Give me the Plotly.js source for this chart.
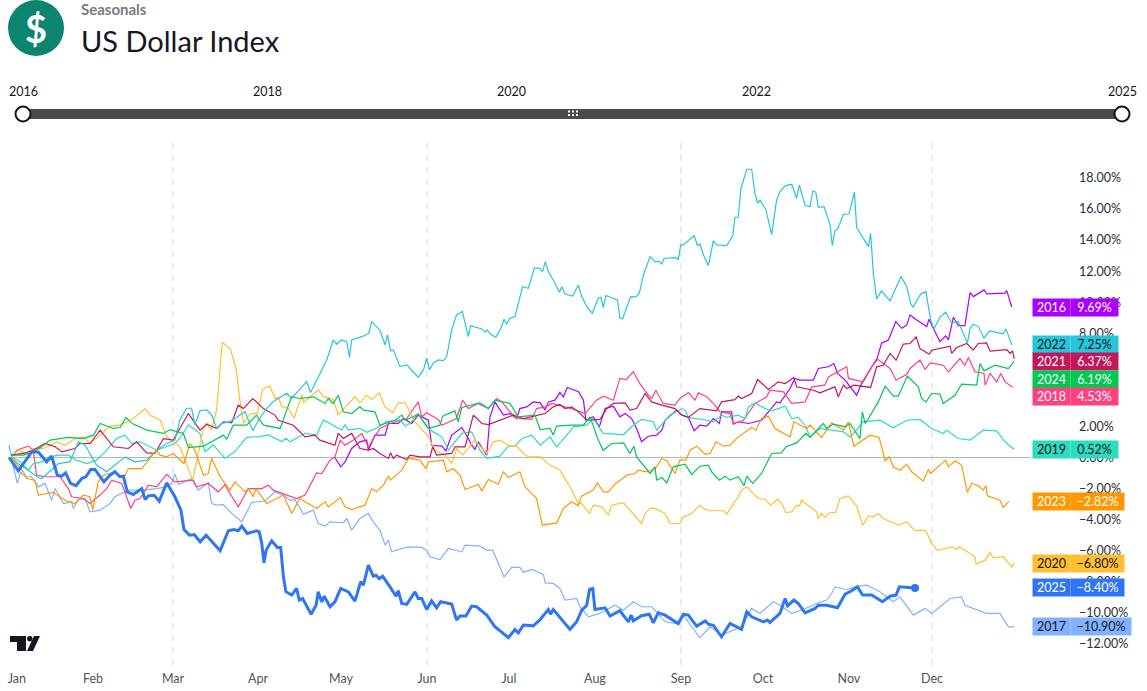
<!DOCTYPE html>
<html><head><meta charset="utf-8">
<script src="https://cdn.plot.ly/plotly-3.0.1.min.js"></script>
<style>html,body{margin:0;padding:0;background:#fff}</style></head>
<body><div id="chart" style="width:1147px;height:691px"></div>
<script>
const d2016=[119.1,121.2,122.8,125.2,128.2,130.7,131.3,133.7,137.4,138.6,142.2,144.1,147.1,149.5,153.2,154.4,158.1,159.6,161.7,165.4,167.8,169,170.2,171.4,174.5,175.7,177.5,180.6,183,185.4,186.6,189.1,191.5,194,195.8,197,199.4,201.2,202.5,203.9,208,209.8,210.7,213.4,215.6,217.7,220.7,223.1,225,227.4,229.2,231,233.5,236.5,238.4,239.6,243.8,245.7,248.1,250.2,252.3,254.8,257.2,259.4,260.2,263.9,264.5,266.3,270,274.8,280.3,281.5,285.2,287,288.8,293.7,295.5,299.2,301.2,302.5,305.3,309.5,311.3,315,316.8,318.6,321.1,323.8,326,327.8,329,331.4,335.1,335.9,339.9,342,343,344.8,346.6,349,350.9,352.1,356,357,363.7,364.3,366.1];
const y2016=[0,-0.6,-0.28,0.58,1.01,1.12,0.47,1.44,1.44,2.19,2.19,2.51,2.19,2.73,2.4,0.79,0.73,0.43,1.44,1.93,1.22,0.79,0.52,1.01,0.15,2.62,3.58,2.73,2.83,2.51,3.15,3.26,3.58,3.52,3.05,3.58,3.69,4.18,3.91,4.51,4.23,3.69,2.4,2.62,1.97,3.15,3.3,2.62,2.83,2.51,1.87,1.01,1.37,1.44,1.76,2.4,3.05,2.73,2.58,1.72,2.08,2.02,2.51,2.19,2.94,2.94,2.15,2.3,2.19,2.4,3.58,3.52,4.44,5.09,4.98,4.98,5.73,5.84,6.05,5.41,4.98,4.01,4.76,5.84,6.27,7.36,7.57,8.75,8.32,8.54,9.18,8.86,8.43,8.9,7.46,7.83,7.57,9.03,8.49,8.49,10.62,10.36,10.79,10.53,10.58,10.75,9.69];
const d2017=[0.9,3.2,4.4,6,8.4,10.9,13.3,15.7,17,20,23,23.6,25.5,27.9,29.7,33.4,37,38.8,43.7,49.2,54,57.7,59.5,60.7,62,66.8,69.2,72.9,74.1,75.9,78.4,81.4,85.1,88.7,93.6,97.2,100.9,102.7,104.5,107.6,111.2,113,115.5,117.3,122.2,123.4,125.2,128.2,131.3,133.1,135.5,137.4,138.6,139.8,143.5,145.9,150.8,152.6,153.8,157.4,160.5,165.4,166.6,172,174.5,176.7,180.8,183.6,186.6,187.9,190.9,195.2,195.8,198.8,201.2,203.1,207.3,208.5,211.6,215.8,221.3,224.4,228,231,234.7,239.6,243.8,246.3,252.3,256,260.2,263.3,267.5,271.2,274.2,279.1,281.5,285.8,290,294.9,298.6,300.4,301.6,305.9,308.9,313.2,318,322.9,325.3,330.2,334.5,336.9,343.6,347.8,349,356.9,361.8,364.9,367];
const y2017=[0,-1.67,-0.92,-1.24,-1.24,-1.89,-1.67,-2.75,-2,-2.96,-2.85,-3.28,-2.71,-2.64,-3.5,-3.39,-2.96,-2.53,-2.1,-2.1,-2,-1.89,-1.67,-1.07,-1.73,-1.36,-2.1,-1.63,-2.96,-3.07,-3.03,-3.6,-4.14,-2.9,-2.79,-2.21,-2.49,-2.75,-2.71,-3.65,-3.39,-4.25,-4.42,-4.14,-4.2,-3.93,-4.68,-3.93,-3.6,-4.14,-4.68,-5.64,-5.32,-6.07,-5.86,-5.75,-5.79,-5.97,-6.39,-6.57,-5.86,-6.07,-5.64,-5.71,-5.97,-5.97,-7.68,-7.08,-7.08,-7.4,-7.21,-7.53,-8.07,-8.11,-8.43,-9.18,-9.08,-9.61,-10.26,-10.04,-9.51,-9.83,-9.29,-9.61,-9.61,-10.58,-10.69,-10.15,-11.61,-10.9,-11.44,-11.22,-10.9,-9.72,-10.04,-9.29,-9.51,-10.04,-9.79,-9.4,-9.18,-8.76,-8.33,-8.5,-8.33,-8.22,-8.65,-9.29,-8.97,-10.15,-9.72,-10.04,-9.08,-8.97,-9.51,-10.04,-10.04,-10.9,-10.9];
const d2018=[0.9,3,7.2,9,10.2,13.3,18.8,21.8,23,27.3,29.7,33.4,35.8,37.6,41.3,44.6,46.1,48,51,54,57.7,60.7,67.4,68.6,72.9,76.5,79,80.8,83.8,86.3,87.5,92.4,94.8,96.6,101.5,105.1,108.2,112.4,114.3,117.3,119.1,121,122.8,125.8,128.9,131.3,135.5,139.2,145.3,149.5,150.8,152.6,156.8,158.1,163.5,165.7,167.8,171.4,175.1,178.1,180,183,185.4,190.9,192.7,195.8,198.2,202.5,205.5,210.4,214.6,217.1,220.7,223.1,225.3,228,230.4,233.5,234.7,236.2,238.9,243.2,245,248.1,250.5,251.7,254.8,257.8,259.6,263.3,264.5,268.2,272.4,276.7,277.9,282.8,285.8,290.7,293.1,297.9,299.2,305.9,306.5,311.9,314.4,316.8,321.7,323.9,327.8,329,332.6,334.5,336.3,341.1,343,347.2,349,350.3,352.7,356,356.4,358.2,360.6,362.1,363.7,366.4];
const y2018=[0,0.47,0.73,0.47,-1.14,-1.24,-1.24,-2,-2.53,-2.64,-2.96,-2.42,-2,-1.46,-1.67,-3.28,-2.75,-2.64,-1.78,-1.89,-1.09,-1.57,-1.46,-1.89,-1.67,-2.21,-1.74,-2.32,-3.18,-2.32,-2,-2,-1.78,-2.1,-2.42,-2.64,-2.42,-0.99,-1.03,-0.17,0.04,1.12,0.79,1.12,1.55,0.69,1.87,2.19,2.51,3.58,2.62,2.88,2.45,2.08,2.51,3.69,3.15,3.48,3.15,3.8,3.58,2.94,2.51,2.45,3.15,3.26,3.48,3.26,3.15,2.83,3.69,3.95,3.69,5.09,5.02,5.52,4.76,4.01,3.8,4.33,3.48,3.37,3.8,4.18,3.69,4.16,3.91,3.37,2.94,2.83,2.19,2.4,3.48,3.91,4.33,4.23,3.48,3.58,4.55,4.66,5.19,5.84,5.09,4.87,5.62,6.37,5.73,4.98,5.36,5.73,6.27,5.67,6.09,5.94,5.52,6.37,5.94,6.44,5.52,5.41,4.66,5.41,4.87,5.41,4.87,4.53];
const d2019=[0.15,1.1,4.2,7.2,9,12.1,15.1,18.2,21.8,24.8,28.5,32.1,35.8,39.4,42.5,44.9,48,54,60.7,62.5,65.6,69.8,71.7,74.7,79,82.6,86.9,91.7,94.8,99.7,101.2,102.7,108.2,112.4,114.9,119.1,121.5,122.8,124,128.2,130.7,134.3,138,142.8,144.7,146.5,149.5,152.6,155,158.1,160.5,165.4,169,172,174.5,179.3,182.4,184.8,187.3,190.9,194,197.6,200,203.7,206.1,211,213.4,217,224.4,228,231,235.3,236.5,241.4,245.7,246.9,248.1,254.8,257.2,260.2,262.1,266.3,268.8,270,272.4,276.1,278.5,283.4,285.8,288.2,290.7,292.5,296.1,300.4,304.7,307.1,309.5,311.9,318,322.9,327.8,332.6,336.9,341.1,342.4,346.6,350.9,355.7,360.6,363.7,367];
const y2019=[0.79,0.04,-0.28,-0.82,-0.39,-0.28,0.04,0.15,0.15,-0.17,-0.39,-0.17,0.47,1.22,1.44,0.9,1.01,0.47,0.9,1.24,2.1,1.56,0.38,0.81,-0.05,0.38,1.3,1.35,1.45,1.02,1.24,1.02,1.56,1.45,2.42,2.03,1.77,2.1,1.77,1.88,1.62,1.88,2.31,2.42,2.03,2.2,2.83,1.97,1.65,1.33,0.47,1.55,1.65,0.47,-0.06,0.09,0.73,0.73,1.22,1.44,0.79,1.33,0.69,1.44,1.97,2.08,2.51,1.55,1.48,2.08,2.45,2.3,1.76,2.73,3.15,3.05,2.58,2.4,2.3,2.73,2.58,2.73,2.51,3.26,3.52,3.15,3,3.3,2.51,2.58,2.08,1.33,1.87,1.76,1.65,1.33,1.76,2.3,2.4,1.91,2.4,2.45,1.87,1.55,1.76,1.22,1.12,1.76,1.72,1.01,0.52];
const d2020=[0.9,3.55,6,9,12.7,17.5,20.6,24.2,27.3,29.7,33.4,37,40.7,45.5,49.8,51.6,55.3,57.7,60.1,62.6,67.2,71,72.3,74.1,75.9,78,81,83,84.4,85.7,88.1,90.8,92.7,95.2,97.6,98.4,99.7,102.1,104.2,107,107.6,113,114.9,118.5,120.3,123.4,126.4,128.2,130.7,132.5,135.3,137.4,140.2,142.2,144.7,148.3,153.2,155.6,159.3,161.7,163.5,165.7,170.2,174.5,176.9,179.3,183,185.4,187.9,189.7,194,197.6,201.2,204.9,207.9,209.1,212,213.4,216.5,218.9,220.1,224.4,226.8,231,232.3,234.1,235.9,239.6,241.4,245,246.3,249.3,252.3,253.6,256,260.9,262.1,266.3,267.5,269.4,273.6,276.1,278.1,280.6,282.1,283.7,285.8,287.6,288.6,289.4,294.9,295.5,296.7,297.9,299.8,301.9,303.4,306.5,309.5,311.7,313.8,315.6,317.4,319.2,324.7,327.8,330.8,332.4,334.8,336.9,339,344.2,346,347,352.7,353.1,356.4,358.2,359.2,363,366.1,367];
const y2020=[0,0.47,0.26,0.58,0.58,1,0.79,1.22,1.33,0.9,1.44,2.02,2.08,2.51,3.15,2.73,2.4,1.33,1,0.69,-1.46,1.77,2.2,1.77,3.06,7.42,6.97,5.74,3.71,2.2,2.8,2.85,4.39,4.61,3.71,3.92,3.28,3.17,2.53,4.03,3.53,4.35,3.92,3.75,2.74,3.37,3.91,3.52,4.01,3.73,4.16,3.26,2.88,3.52,3.52,2.3,1.33,0.47,0.15,-0.39,0.58,0.15,1.12,0.26,1.01,1.12,0.73,0.73,0.26,0.04,0.04,-0.49,-0.82,-1.89,-2.96,-2.96,-3.6,-3.07,-3.18,-3.71,-3.07,-2.9,-3.39,-4.25,-3.61,-3.28,-3.28,-3.61,-4.25,-4.25,-3.82,-3.61,-3.07,-3.28,-3.43,-3.43,-3.65,-2.53,-2.1,-1.89,-2.64,-2.7,-3.07,-2.7,-2.96,-3.54,-3.5,-3.07,-3.13,-2.75,-3.5,-3.93,-3.61,-3.86,-3.54,-3.54,-2.64,-2.47,-3.11,-4.36,-3.76,-3.82,-3.61,-3.93,-4.36,-4.14,-4.72,-4.68,-4.72,-5.54,-5.97,-5.75,-5.92,-5.75,-6.39,-6.87,-6.61,-6.12,-6.44,-6.39,-7.04,-6.8];
const d2021=[0.9,5.4,9,13.3,17,19.4,24.2,26,29.7,33.4,38.2,43.7,46.7,50.4,53.4,56.5,60.1,65.6,69.9,72.3,76,78.4,81.4,83.8,85.7,89.1,93,97.2,98.4,103.9,108.2,111.8,113.6,119.1,120.3,122.2,125.2,128.2,131.3,133.1,135.5,138.6,139.4,140.4,141.6,145.3,146.5,150.1,153.8,154.8,156.2,161.7,162.9,166.6,169.6,172.7,175.1,180.6,184.2,187.9,192.7,195.8,198.8,201.2,203.1,205.5,208,211,215.8,218.3,220.7,225,226.8,229.2,232.3,234.7,238.4,243.2,245.7,248.1,252.3,258.4,260.2,265.1,266.3,267.5,271.2,273.4,277.3,280.9,283.4,286.6,287.6,293.7,296.1,298.6,301.6,302.8,304.7,305.9,308.5,314.6,316.8,319.2,321.7,323.9,326.5,329,331.2,332.6,336,336.9,343.6,344.2,346,349.7,352.1,353.9,356.9,358.2,364.3,365.5,366.4,367];
const y2021=[0.15,0.26,0.47,0.9,0.69,0.36,0.58,0.9,0.9,1.76,0.69,0.58,1.01,0.3,0.26,1.22,1.12,2.83,1.76,2.15,1.87,2.3,2.23,3.37,3.15,3.8,3.15,2.73,2.4,2.08,1.33,1.44,1.12,0.79,1.55,1.22,1.55,0.58,0.47,0.58,0.26,-0.06,0.3,-0.06,0.15,-0.13,0.15,0.04,0.04,0.69,0.15,0.26,0.69,0.69,2.73,2.19,2.12,2.51,2.73,2.51,2.73,2.83,3.26,3.41,3.15,3.26,2.94,2.4,2.45,3.15,3.48,3.52,3.05,3.15,4.12,3.58,3.37,3.15,2.73,2.58,3.15,3,3.58,3.73,3.95,3.8,4.12,5.02,4.38,4.87,4.76,5.15,4.55,4.33,4.16,4.33,4.55,3.91,4.66,4.44,4.66,4.51,5.84,5.94,6.7,6.27,7.3,7.34,7.77,7.02,6.65,6.91,7.17,6.7,7.08,7.34,6.91,7.34,7.38,6.85,6.95,6.7,6.87,6.37];
const d2022=[0.9,4.2,7.2,10.7,12.1,18.2,22.4,25.5,27.9,32.1,35.8,42.5,46.1,50.4,54,57.7,60.7,62.5,65,66.8,68,69.8,72.3,74.1,75.9,77.8,80.8,84.4,86.3,89.1,91.7,94.2,96.6,101.5,103.3,108.8,110.2,116.1,118.5,119.7,121.5,123.4,124.4,125.2,128.9,131.5,132.5,135.5,137.4,138.3,139.4,140.4,142.8,145.5,147.1,149.5,151.4,152.6,153.6,155,156.8,158.7,159.9,161.7,163.5,165.6,167.8,168.6,172.7,173.9,174.7,175.7,177.8,179.7,180.8,181.8,183,184.8,187.6,189.7,191.9,193.7,194.9,195.9,197,199.1,201,201.9,203.1,205.9,207.9,209.2,211,213,215.2,216.2,217,218,222.2,223.1,224.1,227,229,230.2,231.7,234.1,235.9,237.5,238.4,239.3,243.8,244.4,245.3,246.3,250.2,251.4,252.3,253.6,255.4,257.2,258.4,262.1,264.3,265.1,266.3,267.3,269.4,271.2,272.4,273.4,274.2,276.4,278.5,280.3,281.5,283.4,285.8,287.6,288.6,290.7,292.5,293.5,294.6,295.5,297.6,299.8,300.6,301.6,302.6,304.7,306.7,308.7,309.5,313.8,314.6,315.6,316.8,318.6,321.7,325.7,327.8,329.2,330,332.9,334.8,336.5,337.7,339.9,342,344.2,346.6,349.9,350.9,352.1,353.9,356,358,363,364,366.1];
const y2022=[0,-0.49,-0.82,-1.29,-1.35,-0.39,-0.28,1.01,0.79,-0.49,-0.92,0.04,-0.28,-0.17,0.47,0.9,1.12,2.42,3.17,3.17,2.1,3,3.06,2.74,1.88,2.2,2.31,2.74,2.95,1.73,2.53,3.17,3.6,4.14,3.81,4.89,4.18,6.28,7.57,7.29,7.57,7.46,6.45,7.57,7.78,8,8.75,8.21,7.25,7.89,6.88,6.92,5.85,5.96,5.6,5.17,5.64,6.39,5.64,6.07,6.28,6.24,6.5,8.22,9.18,9.4,7.79,8.49,8.28,8.07,8.22,7.96,7.74,8.32,8.9,8.6,8.97,9.07,11,10.9,12.19,12.19,11.97,12.61,11.97,11.33,10.64,11,10.53,10.4,11.11,10.36,9.72,9.29,10.25,10.3,9.65,10.43,10.15,9.01,8.92,10.36,10.34,10.58,11.76,12.94,12.61,12.61,12.46,12.83,12.87,12.72,13.69,13.69,14.29,13.65,13.75,13.04,12.36,13.95,13.69,13.65,14.27,15.47,15.47,17.34,18.56,18.56,17,16.37,16.58,15.94,14.37,16.58,17.12,17.49,17.59,16.69,17.55,16.22,16.16,17.16,17.08,16.11,16.16,14.98,13.65,14.61,14.72,15.66,15.68,17.08,14.8,13.58,14.44,11.86,10.21,10.73,10.08,11.65,11.01,9.93,9.67,10.53,10.68,8.86,8.28,9.03,9.35,8.65,8.75,7.36,8.32,8.58,8.43,7.68,8.15,7.96,8.28,7.25];
const d2023=[0.9,5.4,6.6,9.6,10.9,16.3,20.6,24.2,27.3,29.7,30.7,32.7,34.6,37,38.8,41.9,43.7,48.6,54,55.3,57.7,60.1,64,66.2,68,71.1,72.9,74.1,77.2,80.8,82.6,86.3,87.5,89.3,90.2,94.2,100.3,103.3,106.3,112.4,115.5,116.7,121,122.8,125.2,130.1,132.5,134.3,136.8,138.6,139.4,143.5,145.9,150.1,152.3,153.2,158.7,159.9,162.3,164.7,166.6,171.4,172.7,175.1,178.7,180.6,182.4,186.6,188.5,192.7,194.8,200,202.5,205.5,207.9,209.1,213.4,214.9,217.1,218.9,221.3,225.6,228.6,229.8,232.9,234.7,236.5,238.4,240.2,243.2,245,247.2,248.7,251.1,254.2,256,258.2,260.9,263.3,266.3,271.2,272.7,274.8,277.3,279.7,285.2,286.6,291.3,292.5,296.7,300.4,304.7,306.5,308.5,314.4,317.7,319.9,321.4,322.9,325.3,327.8,329.6,333.8,335.7,336.5,342,343,345.4,347.8,349.9,351.5,353.9,355.7,356.7,357.2,361.8,363,365.1];
const y2023=[0,-0.92,-1.35,-1.46,-2.42,-2.25,-2.75,-2.96,-2.42,-2.53,-3.39,-1.57,-1.14,-1.03,-0.92,-1.35,-0.71,-0.71,0.47,0.15,0.04,0.26,-0.39,0.9,0.47,-1.14,-1.03,-0.06,-1.24,-2.1,-1.57,-2.21,-2,-2.53,-2,-2.96,-2.42,-3.61,-2.64,-3.28,-2.85,-3.18,-2.58,-3.18,-3.35,-3.07,-2,-2.21,-1.78,-1.2,-1.46,-0.82,-0.06,-0.17,-0.71,-0.28,-0.17,-0.92,-0.71,-1.14,-2.06,-1.74,-2.15,-1.42,-1.72,-0.92,-1.29,-0.92,-1.89,-2.64,-4.36,-4.21,-3.28,-2.85,-3.11,-2.49,-2.1,-1.63,-2.21,-2.21,-1.72,-1.14,-1.03,-0.82,-0.92,-0.82,-0.6,-0.06,-0.21,-1.03,-0.17,-0.17,0.47,0.73,0.21,0.26,1.01,0.73,0.79,1.33,1.93,1.76,2.51,2.66,1.87,1.33,2.3,1.87,2.08,1.29,2.23,1.76,2.3,0.73,1.44,1.29,-0.21,0.04,-0.6,-0.82,-0.43,-0.92,-1.52,-0.77,-1.03,-0.17,-0.6,-0.21,-0.49,-2.25,-1.67,-1.82,-2.1,-1.82,-2.47,-2.75,-3.22,-2.82];
const d2024=[0.9,5.4,9,12.1,15.1,21.8,27.3,31,33.4,38.2,40.7,42.8,45.5,50.4,56.5,58.9,63.8,65.6,71.1,78.4,79.6,82,86.9,90.5,93,99.1,101.5,103.3,106.3,111.2,115.5,116.7,118.5,120.3,122.2,125.2,128.2,129.5,133.7,135.5,141,143.5,144.7,149.5,153.2,157.4,158.4,162.9,164.1,165.4,172,175.1,177.5,183,186,192.1,194,197.6,198.8,200,205.5,209.8,212.2,215.2,217,220.1,224.4,226.8,228.2,229.2,234.1,235.9,236.5,238.4,240.2,242.6,246.9,249.3,252.3,255.4,256.6,259.4,261.5,263.3,266.3,268.4,269.4,271.6,274.8,278.5,282.1,283.7,287.6,291,292.5,297.3,298.6,301,305.3,307.1,310.7,311.6,312.6,313.8,317.4,319.9,322.9,324.7,328,332,333.2,334.8,336.9,339.9,341.1,345.4,347.8,353.3,354.5,356,360,364.9,367];
const y2024=[0.15,0.15,0.36,0.69,1.12,1.29,1.22,1.44,2.19,1.87,1.93,2.58,2.15,1.76,1.55,1.8,1.55,0.64,0.73,1.44,1.18,2.08,2.08,2.73,2.08,1.87,3.05,3.91,3.8,3.91,3.48,3.8,3.48,4.01,2.94,2.83,3.26,3.05,2.94,2.08,2.4,2.73,2.4,2.79,1.87,2.08,2.66,3,2.3,3.22,3.52,3.15,3.69,3.48,2.62,2.73,1.8,1.87,1.44,2.02,2.08,2.08,2.62,1.12,0.47,0.9,0.94,0.26,0.73,0.04,-1.03,-0.6,-1.46,-1.29,-1.63,-0.6,-0.43,-1.09,-0.56,-0.49,-0.92,-1.46,-1.2,-1.46,-1.24,-1.82,-1.2,-1.67,-1.03,0.26,0.3,0.69,0.94,1.55,1.29,2.19,1.87,2.15,1.97,2.19,1.22,2.94,2.19,2.51,3.58,4.59,3.95,3.95,5.24,4.55,3.8,3.58,4.12,4.08,3.48,4.01,4.72,4.66,6.05,5.58,5.94,5.73,6.19];
const d2025=[0.15,3.55,8.42,10.85,13.9,15.7,17.8,19.4,20.8,22.6,24.6,26.7,28.2,30,31.5,34.8,37,38.8,40.6,41.9,43.3,45.5,48.6,49.8,51,53.1,55,57.7,60.7,62.9,64,66,67.8,69.9,72.1,77.2,80.2,82.3,83.8,85.1,87.1,90.5,91.5,92.4,93.2,94,96,98.1,99.3,100.3,101.2,103.3,105.1,106.1,107.3,110.4,112.2,113,114.3,115.2,117.3,119.1,121.2,124,126.4,128.5,129.5,131.3,133.1,134.1,135.3,136.5,139.2,141.4,142.2,143.5,145.3,148.3,149.5,150.8,152.6,154.4,156.2,157.7,161.7,163.5,164.7,166.9,169,170.8,174.5,177.5,182.4,184.8,186,187.9,191.5,194,197,197.8,198.8,204.9,207.3,209.2,211,212,213.2,214,217.7,219.5,223.1,226.2,227.2,228,231,233.8,235.3,237.1,239.6,244.4,246.3,248.1,251.1,254.2,255.4,257.2,260.2,263.3,267.5,269.4,271.2,275.5,276.9,277.9,281.5,283.4,284.3,286.6,288.2,290.7,294.3,295.5,298.6,302.5,305.3,307.7,309.8,311.7,315,318.9,321.7,323.9,325.1,330.8];
const y2025=[0,-0.86,0.36,0.36,-0.28,0.09,-1.14,-1.2,-0.99,-1.67,-1.82,-1.35,-1.24,-0.77,-0.77,-1.57,-1.14,-0.92,-1.24,-1.2,-2.21,-2.38,-2,-2.7,-2.47,-2.43,-2.81,-1.63,-2.53,-3.39,-4.64,-5,-4.96,-5.43,-5,-6,-4.72,-4.64,-4.72,-4.42,-4.89,-4.72,-4.79,-5.54,-6.78,-5.97,-5.36,-5.79,-5.79,-7.68,-8.64,-8.86,-8.43,-9.18,-9.08,-10.09,-9.51,-8.64,-9.3,-8.93,-9.61,-9.3,-8.43,-8.65,-9.25,-8,-8.22,-6.93,-7.64,-7.58,-7.8,-7.64,-8.33,-8.93,-8.58,-9.4,-9.46,-8.65,-9.08,-9.08,-9.79,-9.23,-9.68,-9.29,-9.44,-10.47,-10.21,-10.21,-9.57,-9.61,-10.15,-10.9,-11.6,-11.08,-11.29,-10.79,-10.84,-10.43,-9.79,-10.09,-9.79,-11.07,-10.58,-9.83,-9.51,-8.5,-8.43,-9.79,-9.68,-10.21,-9.87,-10.58,-10.15,-10.52,-10.19,-10.09,-10.64,-10,-10.15,-10.69,-10.09,-10.15,-10.86,-10.52,-10.73,-10.8,-11.55,-10.69,-11.07,-9.94,-10.26,-10.58,-10.47,-10.62,-10.04,-9.08,-9.55,-9.18,-9.4,-10,-9.72,-9.51,-9.51,-9.68,-8.8,-8.58,-8.33,-8.86,-8.86,-9.29,-8.93,-8.86,-8.33,-8.4];
const years=['2016','2017','2018','2019','2020','2021','2022','2023','2024','2025'];
const seriesDays=[d2016,d2017,d2018,d2019,d2020,d2021,d2022,d2023,d2024,d2025];
const seriesValues=[y2016,y2017,y2018,y2019,y2020,y2021,y2022,y2023,y2024,y2025];
const colors=['#aa00ff','#82b1ff','#ff4081','#2bdcbf','#ffc02e','#c2185b','#26c6da','#ff9800','#00c853','#2f76f5'];
const labelYears=['2016','2022','2021','2024','2018','2019','2023','2020','2025','2017'];
const labelValues=['9.69%','7.25%','6.37%','6.19%','4.53%','0.52%','−2.82%','−6.80%','−8.40%','−10.90%'];
const labelLevels=[9.69,7.25,6.15,5.05,3.96,0.52,-2.82,-6.80,-8.40,-10.90];
const darkText=['2022','2019','2020','2017'];
const monthDays=[3,30.8,60,91,121.3,152.7,182.6,214,245.4,275.3,306.7,337];
const monthNames=['Jan','Feb','Mar','Apr','May','Jun','Jul','Aug','Sep','Oct','Nov','Dec'];
const quarterDays=[60,152.7,245.4,337];
const yTicks=[-12,-10,-8,-6,-4,-2,0,2,4,6,8,10,12,14,16,18];
const sliderYears=['2016','2018','2020','2022','2025'];
const sliderPos=[23,267,511,756,1122];

const W=1078,H=665,FONT='Lato,"Noto Sans",sans-serif';
const px=x=>x/W, py=y=>(H-y)/H;
const colorOf=y=>colors[years.indexOf(y)];
const traces=[{x:[0,373],y:[0,0],mode:'lines',line:{color:'#b2b5be',width:1},hoverinfo:'skip'}];
years.forEach((yr,i)=>{
  traces.push({x:seriesDays[i],y:seriesValues[i],mode:'lines',name:yr,
    line:{color:colors[i],width:yr==='2025'?3:1.2,shape:'linear'},hoverinfo:'skip'});
});
traces.push({x:[d2025[d2025.length-1]],y:[y2025[y2025.length-1]],mode:'markers',marker:{color:colors[9],size:8},hoverinfo:'skip'});

const shapes=[];
quarterDays.forEach(d=>shapes.push({type:'line',xref:'x',yref:'paper',x0:d,x1:d,y0:0,y1:py(142),layer:'below',line:{color:'#d6d7da',width:1,dash:'6px,6px'}}));
shapes.push({type:'circle',xref:'paper',yref:'paper',x0:px(8),x1:px(64),y0:py(56),y1:py(0),fillcolor:'#0b8470',line:{width:0}});
shapes.push({type:'rect',xref:'paper',yref:'paper',x0:px(23),x1:px(1122),y0:py(119),y1:py(109),fillcolor:'#4a4a4a',line:{width:0}});
[23,1122].forEach(c=>shapes.push({type:'circle',xref:'paper',yref:'paper',x0:px(c-7.5),x1:px(c+7.5),y0:py(121.5),y1:py(106.5),fillcolor:'#ffffff',line:{color:'#131722',width:2}}));
[569,573,577].forEach(cx=>[111.5,115].forEach(cy=>shapes.push({type:'rect',xref:'paper',yref:'paper',x0:px(cx-1),x1:px(cx+1),y0:py(cy+1),y1:py(cy-1),fillcolor:'#ffffff',line:{width:0}})));
const logo=[[[10,636],[26,636],[26,651],[17,651],[17,642],[10,642]],[[34,636],[40,636],[33,651],[27,651]]];
logo.forEach(p=>shapes.push({type:'path',xref:'paper',yref:'paper',path:'M'+p.map(q=>px(q[0])+' '+py(q[1])).join('L')+'Z',fillcolor:'#131722',line:{width:0}}));
shapes.push({type:'circle',xref:'paper',yref:'paper',x0:px(27),x1:px(32.5),y0:py(641.5),y1:py(636),fillcolor:'#131722',line:{width:0}});

const ann=[];
const txt=(x,y,text,size,color,anchor,extra)=>ann.push(Object.assign({xref:'paper',yref:'paper',x:px(x),y:py(y),text,showarrow:false,xanchor:anchor||'left',yanchor:'middle',font:{family:FONT,size,color}},extra||{}));
txt(36,28,'<b>$</b>',38,'#ffffff','center');
txt(79,9,'<b>Seasonals</b>',15,'#787b86');
txt(79,40,'US Dollar Index',29,'#131722');
sliderYears.forEach((y,i)=>txt(sliderPos[i],92,y,12.5,'#131722','center'));
labelYears.forEach((y,i)=>{
  const c=colorOf(y), tc=darkText.includes(y)?'#131722':'#ffffff';
  const w=labelValues[i].length>=7?60:(labelValues[i].startsWith('−')?53:47);
  ann.push({xref:'paper',yref:'y',x:px(1032),y:labelLevels[i],xanchor:'left',yanchor:'middle',text:y,showarrow:false,width:37,height:17,bgcolor:c,borderpad:0,align:'center',valign:'middle',font:{family:FONT,size:12.5,color:tc}});
  ann.push({xref:'paper',yref:'y',x:px(1070),y:labelLevels[i],xanchor:'left',yanchor:'middle',text:labelValues[i],showarrow:false,width:w,height:17,bgcolor:c,borderpad:0,align:'center',valign:'middle',font:{family:FONT,size:12.5,color:tc}});
});

Plotly.newPlot('chart',traces,{
  width:1147,height:691,showlegend:false,paper_bgcolor:'#fff',plot_bgcolor:'rgba(0,0,0,0)',
  margin:{l:0,r:69,t:0,b:26,pad:0},
  xaxis:{range:[60-173/2.74,60+(W-173)/2.74],showgrid:false,zeroline:false,showline:false,ticks:'',tickmode:'array',tickvals:monthDays,ticktext:monthNames,ticklabelstandoff:4,tickfont:{family:FONT,size:12.5,color:'#50535e'},fixedrange:true},
  yaxis:{range:[(457.5-H)/15.53,457.5/15.53],side:'right',showgrid:false,zeroline:false,showline:false,ticks:'',tickmode:'array',tickvals:yTicks,ticktext:yTicks.map(v=>(v<0?'−':'')+Math.abs(v).toFixed(2)+'%'),tickfont:{family:FONT,size:12.5,color:'#2a2e39'},fixedrange:true},
  shapes,annotations:ann
},{displayModeBar:false,staticPlot:true});
</script></body></html>
